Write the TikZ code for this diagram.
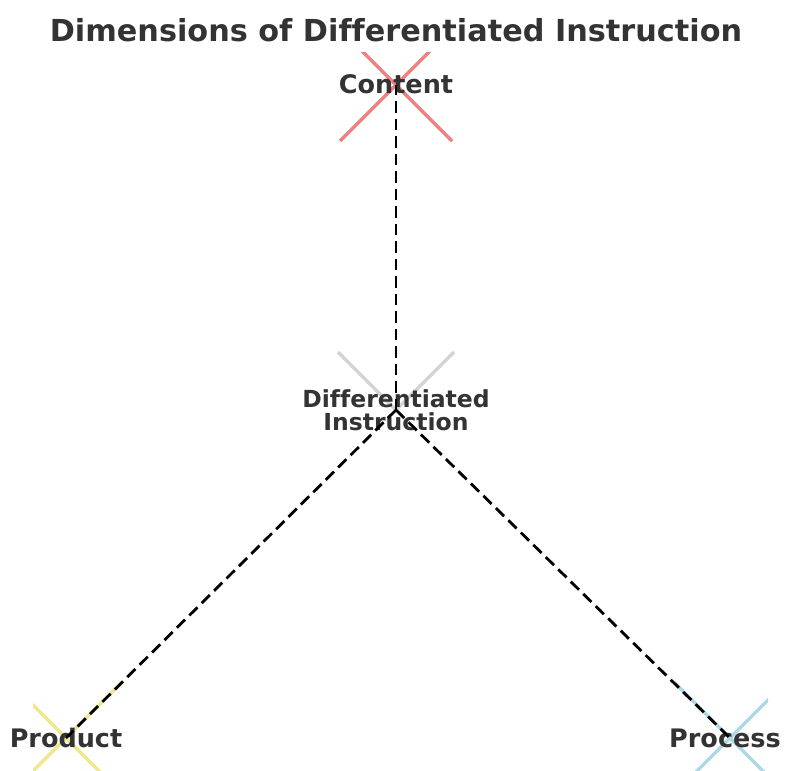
\documentclass[tikz,border=0pt]{standalone}
\usepackage{fontspec}
\setmainfont{DejaVu Sans}[Ligatures=NoCommon]
\definecolor{txt}{HTML}{333333}
\definecolor{xred}{HTML}{F08080}
\definecolor{xgrey}{HTML}{D3D3D3}
\definecolor{xyellow}{HTML}{F0E68C}
\definecolor{xblue}{HTML}{ADD8E6}
\tikzset{
  lbl/.style={text=txt,font=\bfseries\fontsize{25.5}{27}\selectfont,inner sep=0pt},
  xmarker/.style={line width=3.3pt},
  conn/.style={line width=2.8pt,dash pattern=on 11.5pt off 6pt,black}
}
\begin{document}
\begin{tikzpicture}[x=1pt,y=-1pt]
\useasboundingbox (0,0) rectangle (785,771);
\coordinate (cC) at (396,85);
\coordinate (cD) at (396,410);
\coordinate (cP) at (66,738);
\coordinate (cR) at (730,738);
\begin{scope}
\clip (33,52) rectangle (768,771);
\draw[xmarker,xred] (340,29) -- (452,141) (452,29) -- (340,141);
\draw[xmarker,xgrey] (338,352) -- (cD) -- (454,352);
\draw[xmarker,xyellow] (10,682) -- (122,794) (122,682) -- (10,794);
\draw[xmarker,xblue] (674,682) -- (786,794) (786,682) -- (674,794);
\end{scope}
\node[text=txt,font=\bfseries\fontsize{30.3}{32}\selectfont,inner sep=0pt] (title) at (396,30) {Dimensions of Differentiated Instruction};
\node[lbl] (tC) at (396,84) {Content};
\node[lbl,font=\bfseries\fontsize{23.5}{25}\selectfont,align=center] (tD) at (396,410) {Differentiated\\[-2pt]Instruction};
\node[lbl] (tP) at (66,738) {Product};
\node[lbl] (tR) at (725,738) {Process};
\draw[conn] (cD) -- (cC);
\draw[conn] (cD) -- (cP);
\draw[conn] (cD) -- (cR);
\end{tikzpicture}
\end{document}
